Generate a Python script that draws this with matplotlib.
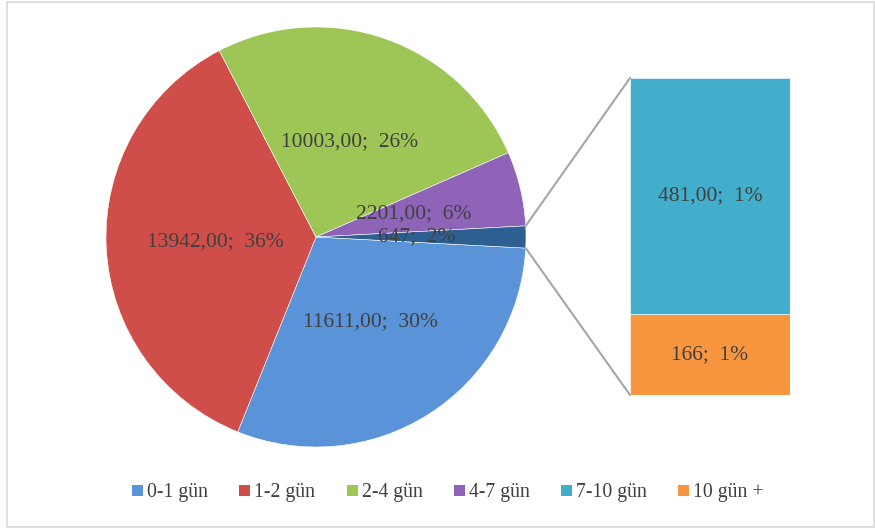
import numpy as np
import matplotlib.pyplot as plt
from matplotlib.patches import Patch, Rectangle, ConnectionPatch

# datos del grafico
pie_names = ['0-1 gün', '1-2 gün', '2-4 gün', '4-7 gün', 'Diğer']
pie_values = [11611, 13942, 10003, 2201, 647]
pie_text = ['11611,00', '13942,00', '10003,00', '2201,00', '647']
pie_pct = [30, 36, 26, 6, 2]

bar_names = ['7-10 gün', '10 gün +']
bar_values = [481, 166]
bar_text = ['481,00', '166']
bar_pct = [1, 1]

legend_names = ['0-1 gün', '1-2 gün', '2-4 gün', '4-7 gün', '7-10 gün', '10 gün +']
pie_colors = ['#5A93D8', '#CF4E4A', '#9DC656', '#8E63B8', '#2D5F92']
bar_colors = ['#42AECB', '#F8963F']
legend_colors = pie_colors[:4] + bar_colors

plt.rcParams['font.family'] = ['Liberation Serif', 'DejaVu Serif']
txt_color = '#404040'
fs = 15.5

fig = plt.figure(figsize=(8.75, 5.32), dpi=100)
fig.patches.append(Rectangle((7/875, 5/532), 867/875, 525/532, transform=fig.transFigure,
                             fill=False, edgecolor='#D9D9D9', lw=1.2))

# pastel
ax = fig.add_axes([106/875, 85/532, 420/875, 420/532])
other_frac = pie_values[-1] / sum(pie_values)
wedges, _ = ax.pie(pie_values, colors=pie_colors, startangle=-other_frac * 180,
                   counterclock=False, radius=1,
                   wedgeprops=dict(edgecolor='#FFFFFF', linewidth=0.4))
ax.set_xlim(-1, 1)
ax.set_ylim(-1, 1)
ax.set_aspect('equal')
ax.axis('off')
for w, t, p in zip(wedges, pie_text, pie_pct):
    ang = np.deg2rad((w.theta1 + w.theta2) / 2)
    ax.text(0.48 * np.cos(ang), 0.48 * np.sin(ang), f'{t};  {p}%', ha='center', va='center',
            fontsize=fs, color=txt_color)

# barra
bx = fig.add_axes([630/875, 137/532, 160/875, 317/532])
bottom = 0
for v, c, t, p in zip(bar_values[::-1], bar_colors[::-1], bar_text[::-1], bar_pct[::-1]):
    bx.bar(0, v, bottom=bottom, width=1, color=c, edgecolor='#FFFFFF', linewidth=0.4)
    bx.text(0, bottom + v / 2, f'{t};  {p}%', ha='center', va='center', fontsize=fs, color=txt_color)
    bottom += v
bx.set_xlim(-0.5, 0.5)
bx.set_ylim(0, sum(bar_values))
bx.axis('off')

# lineas de conexion
ow = wedges[-1]
for ang, yb in [(ow.theta2, sum(bar_values)), (ow.theta1, 0)]:
    a = np.deg2rad(ang)
    con = ConnectionPatch(xyA=(np.cos(a), np.sin(a)), coordsA=ax.transData,
                          xyB=(-0.5, yb), coordsB=bx.transData, color='#A6A6A6', lw=1.5)
    fig.add_artist(con)

handles = [Patch(facecolor=c, edgecolor='none') for c in legend_colors]
leg = fig.legend(handles, legend_names, loc='center', bbox_to_anchor=(448/875, 1 - 493/532),
                 ncol=6, frameon=False, fontsize=14.2, handlelength=0.55, handleheight=0.55,
                 handletextpad=0.2, columnspacing=1.6)
for t in leg.get_texts():
    t.set_color(txt_color)

fig.savefig('out.png', dpi=100)
